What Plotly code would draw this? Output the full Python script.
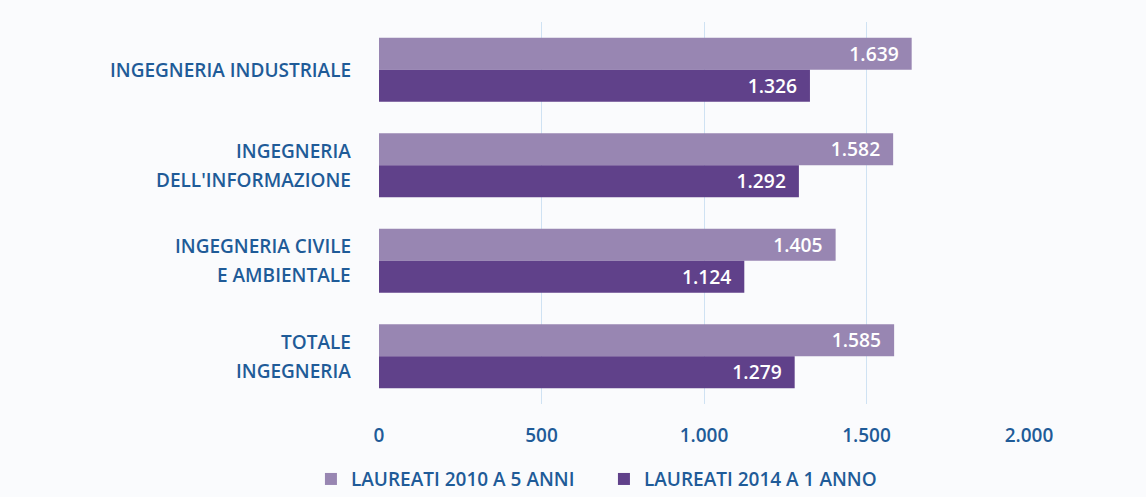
import plotly.graph_objects as go

categories = ["INGEGNERIA INDUSTRIALE", "INGEGNERIA<br>DELL'INFORMAZIONE",
              "INGEGNERIA CIVILE<br>E AMBIENTALE", "TOTALE<br>INGEGNERIA"]
series_2010 = [1639, 1582, 1405, 1585]
series_2014 = [1326, 1292, 1124, 1279]
name_2010 = "LAUREATI 2010 A 5 ANNI"
name_2014 = "LAUREATI 2014 A 1 ANNO"
x_ticks = [0, 500, 1000, 1500, 2000]

FONT = "Open Sans"
BLUE = "#1f5b98"
LIGHT = "#9886b2"
DARK = "#60418a"
PAD = "\u00a0\u00a0"

fig = go.Figure()
for vals, name, col in [(series_2010, name_2010, LIGHT), (series_2014, name_2014, DARK)]:
    fig.add_trace(go.Bar(
        y=list(range(len(categories))), x=vals, name=name, orientation="h",
        marker=dict(color=col, line=dict(width=0)),
        texttemplate="%{x:,}" + PAD, textposition="inside", insidetextanchor="end",
        textfont=dict(color="white", size=20, family=FONT, weight=600),
    ))

annotations = []
line_gap = 29
for i, cat in enumerate(categories):
    lines = cat.split("<br>")
    n = len(lines)
    for j, ln in enumerate(lines):
        shift = ((n - 1) / 2 - j) * line_gap
        annotations.append(dict(
            xref="paper", yref="y", x=-0.04, y=i, text=ln, showarrow=False,
            xanchor="right", yanchor="middle", align="center", yshift=shift,
            font=dict(family=FONT, size=19, color=BLUE, weight=600),
        ))

fig.update_layout(
    width=1146, height=497,
    margin=dict(l=379, r=117, t=22, b=93, autoexpand=False),
    paper_bgcolor="#fafbfd", plot_bgcolor="#fafbfd",
    barmode="group", bargap=0.33, bargroupgap=0,
    separators=",.",
    showlegend=True,
    legend=dict(orientation="h", xref="container", yref="container",
                x=0.527, xanchor="center", y=0.036, yanchor="middle",
                font=dict(family=FONT, size=19, color=BLUE, weight=600), traceorder="normal",
                entrywidth=248, entrywidthmode="pixels",
                bgcolor="rgba(0,0,0,0)"),
    xaxis=dict(range=[0, 2000], tickvals=x_ticks, tickformat=",", showgrid=True,
               gridcolor="#cfe2f3", gridwidth=1, zeroline=False, showline=False,
               tickfont=dict(family=FONT, size=19, color=BLUE, weight=600), ticklabelstandoff=18,
               fixedrange=True),
    yaxis=dict(range=[len(categories) - 0.5, -0.5], showticklabels=False,
               showgrid=False, zeroline=False, showline=False, fixedrange=True),
    annotations=annotations,
)
fig.write_html("out.html", config={"displayModeBar": False},
               post_script="document.body.style.margin='0';document.body.style.background='#fafbfd';")
